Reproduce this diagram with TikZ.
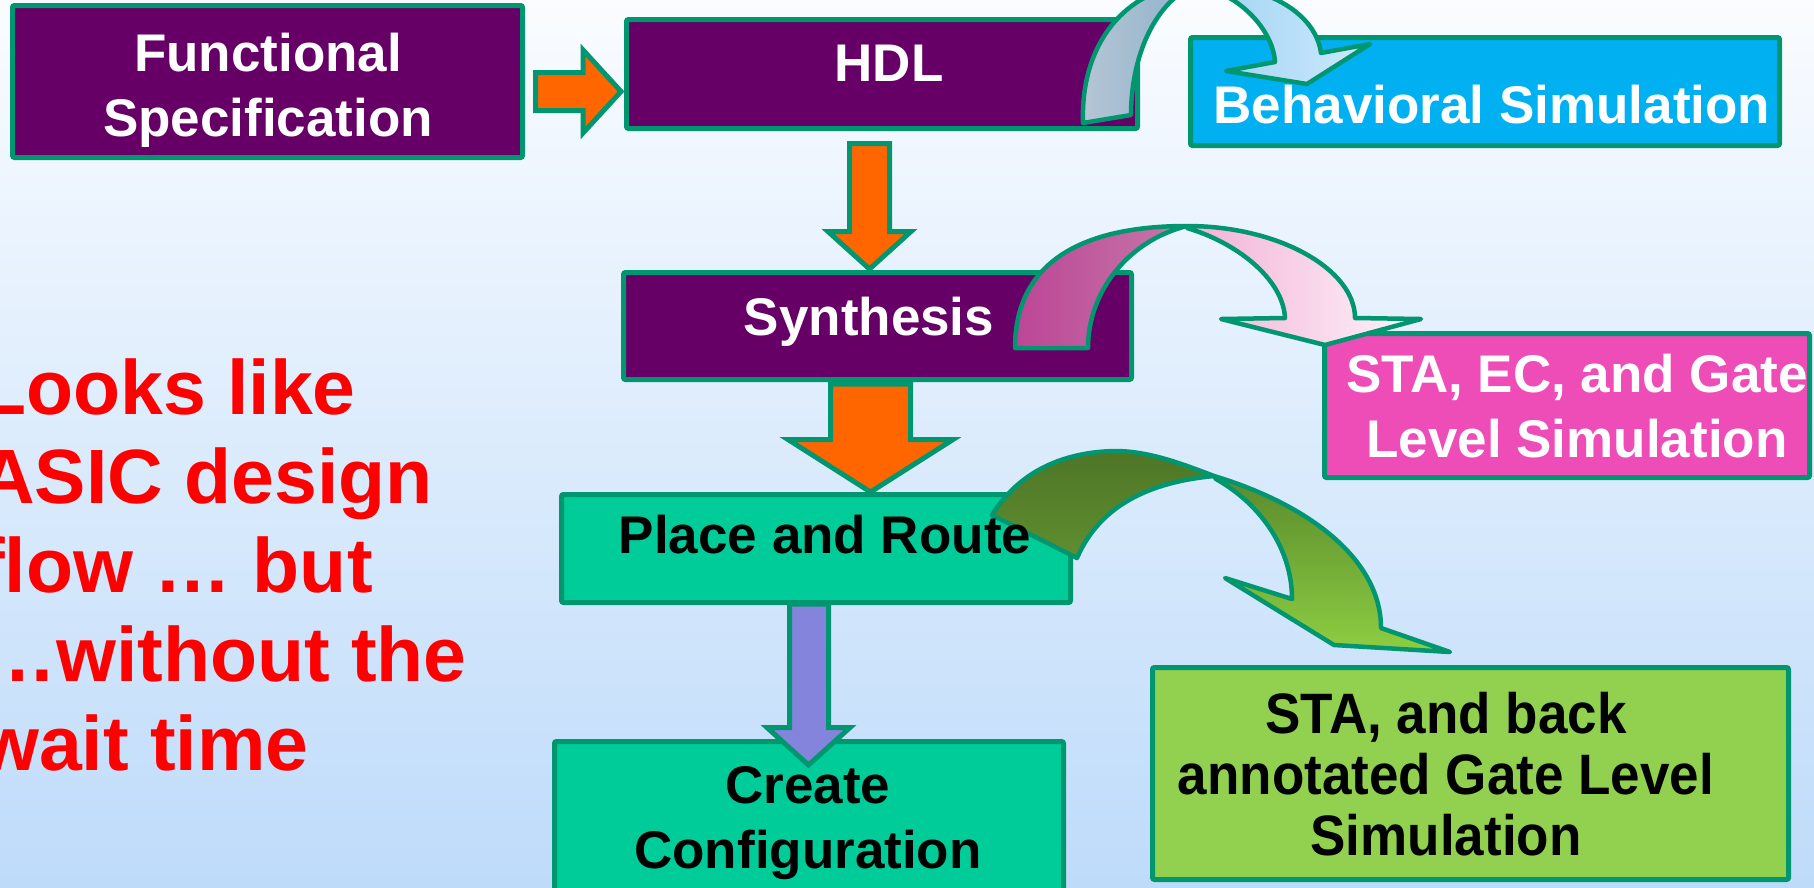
\documentclass[tikz,border=0pt]{standalone}
\usepackage{fontspec}
\setmainfont{Liberation Sans}
\newfontfamily\narrowfont[FakeStretch=0.93]{Liberation Sans}
\definecolor{edge}{RGB}{0,150,112}
\definecolor{purp}{RGB}{102,0,102}
\definecolor{cyanbox}{RGB}{0,176,240}
\definecolor{pinkbox}{RGB}{238,76,182}
\definecolor{tealbox}{RGB}{0,204,153}
\definecolor{greenbox}{RGB}{146,208,80}
\definecolor{orangearr}{RGB}{255,102,0}
\definecolor{violetarr}{RGB}{132,132,220}
\definecolor{redtext}{RGB}{255,0,0}
\definecolor{bgtop}{RGB}{250,252,255}
\definecolor{bgbot}{RGB}{190,219,250}
\begin{document}
\begin{tikzpicture}[x=1pt,y=-1pt,
  box/.style={draw=edge, line width=5pt, rounded corners=2pt, inner sep=0pt, rectangle},
  blockarrow/.style={draw=edge, line width=5pt, line join=miter},
  curvearrow/.style={draw=edge, line width=4.5pt, line join=round},
  txt/.style={font=\bfseries\fontsize{53}{65}\selectfont, inner sep=0pt, align=center},
  gtxt/.style={font=\narrowfont\bfseries\fontsize{57}{61}\selectfont, inner sep=0pt, align=center},
  redtxt/.style={font=\bfseries\fontsize{77}{89}\selectfont, inner sep=0pt, align=left, text=redtext}
]
\useasboundingbox (0,0) rectangle (1814,887);
\fill[top color=bgtop, bottom color=bgbot] (0,0) rectangle (1814,887);

% boxes
\node[box, fill=purp, minimum width=510pt, minimum height=152pt] (fs) at (267.5,81.5) {};
\node[box, fill=purp, minimum width=511pt, minimum height=109pt] (hdl) at (882,74) {};
\node[box, fill=cyanbox, minimum width=589pt, minimum height=108pt] (beh) at (1485,91.5) {};
\node[box, fill=purp, minimum width=508pt, minimum height=107pt] (syn) at (877.5,326) {};
\node[box, fill=pinkbox, minimum width=485pt, minimum height=144pt] (sta) at (1567,405.5) {};
\node[box, fill=tealbox, minimum width=509pt, minimum height=108pt] (pr) at (816,548.5) {};
\node[box, fill=tealbox, minimum width=509pt, minimum height=178pt] (cc) at (809,830.5) {};
\node[box, fill=greenbox, minimum width=636pt, minimum height=212pt] (gl) at (1470.5,773.5) {};

% straight block arrows
\filldraw[blockarrow, fill=orangearr] (535.5,72.5) -- (583,72.5) -- (583,50) -- (621,91.5) -- (583,133) -- (583,110.5) -- (535.5,110.5) -- cycle;
\filldraw[blockarrow, fill=orangearr] (849.5,143.5) -- (889.5,143.5) -- (889.5,231.5) -- (911,231.5) -- (869.5,269) -- (828,231.5) -- (849.5,231.5) -- cycle;
\filldraw[blockarrow, fill=orangearr] (830.5,384) -- (910.5,384) -- (910.5,439.5) -- (953,439.5) -- (870.5,492) -- (788,439.5) -- (830.5,439.5) -- cycle;
\filldraw[blockarrow, fill=violetarr] (789.5,604) -- (828.5,604) -- (828.5,727.5) -- (850,727.5) -- (808.5,765) -- (767,727.5) -- (789.5,727.5) -- cycle;

% curved arrow HDL -> Behavioral Simulation
\path[curvearrow, left color={rgb,255:red,182;green,198;blue,212}, right color={rgb,255:red,140;green,176;blue,204}]
  (1083,123) .. controls (1080,40) and (1130,-16) .. (1200,-16)
  .. controls (1160,-5) and (1131,50) .. (1131,115) -- cycle;
\path[curvearrow, left color={rgb,255:red,160;green,210;blue,240}, right color={rgb,255:red,205;green,234;blue,255}]
  (1200,-16) .. controls (1270,-16) and (1316,15) .. (1321,53)
  -- (1370,44) -- (1307,84) -- (1226,71) -- (1275,62)
  .. controls (1273,30) and (1240,-5) .. (1200,-14) -- cycle;

% curved arrow Synthesis -> STA, EC
\path[curvearrow, left color={rgb,255:red,188;green,70;blue,150}, right color={rgb,255:red,198;green,120;blue,168}]
  (1015,348) .. controls (1015,262) and (1082,226) .. (1187,226)
  .. controls (1130,240) and (1088,290) .. (1088,348) -- cycle;
\path[curvearrow, left color={rgb,255:red,242;green,176;blue,214}, right color={rgb,255:red,255;green,246;blue,251}]
  (1187,226) .. controls (1280,226) and (1355,270) .. (1355,318)
  -- (1421,319) -- (1325,345) -- (1221,319) -- (1285,318)
  .. controls (1283,278) and (1235,242) .. (1187,228) -- cycle;

% curved arrow Place and Route -> STA back annotated
\path[curvearrow, top color={rgb,255:red,78;green,118;blue,38}, bottom color={rgb,255:red,96;green,142;blue,48}]
  (992,515) .. controls (1020,470) and (1065,452) .. (1115,451)
  .. controls (1150,451) and (1185,465) .. (1214,476)
  .. controls (1150,482) and (1100,505) .. (1077,558) -- cycle;
\path[curvearrow, top color={rgb,255:red,90;green,138;blue,44}, bottom color={rgb,255:red,142;green,206;blue,66}]
  (1214,476) .. controls (1310,505) and (1381,560) .. (1381,628)
  -- (1450,652) -- (1334,645) -- (1225,578) -- (1292,599)
  .. controls (1292,550) and (1262,505) .. (1216,479) -- cycle;

% texts (anchor base = baseline of the last line)
\node[txt, text=white, anchor=base] (fst) at (268,136) {Functional\\Specification};
\node[txt, text=white, anchor=base] (hdlt) at (889,81) {HDL};
\node[txt, text=white, anchor=base] (beht) at (1492,123) {Behavioral Simulation};
\node[txt, text=white, anchor=base] (synt) at (869,335) {Synthesis};
\node[txt, text=white, anchor=base] (stat) at (1577,457) {STA, EC, and Gate\\Level Simulation};
\node[txt, text=black, anchor=base] (prt) at (825,553) {Place and Route};
\node[txt, text=black, anchor=base] (cct) at (808,868) {Create\\Configuration};
\node[gtxt, text=black, anchor=base] (glt) at (1446,855) {STA, and back\\annotated Gate Level\\Simulation};
\node[redtxt, anchor=base west] (note) at (-21,770) {Looks like\\ASIC design\\flow … but\\…without the\\wait time};
\end{tikzpicture}
\end{document}
